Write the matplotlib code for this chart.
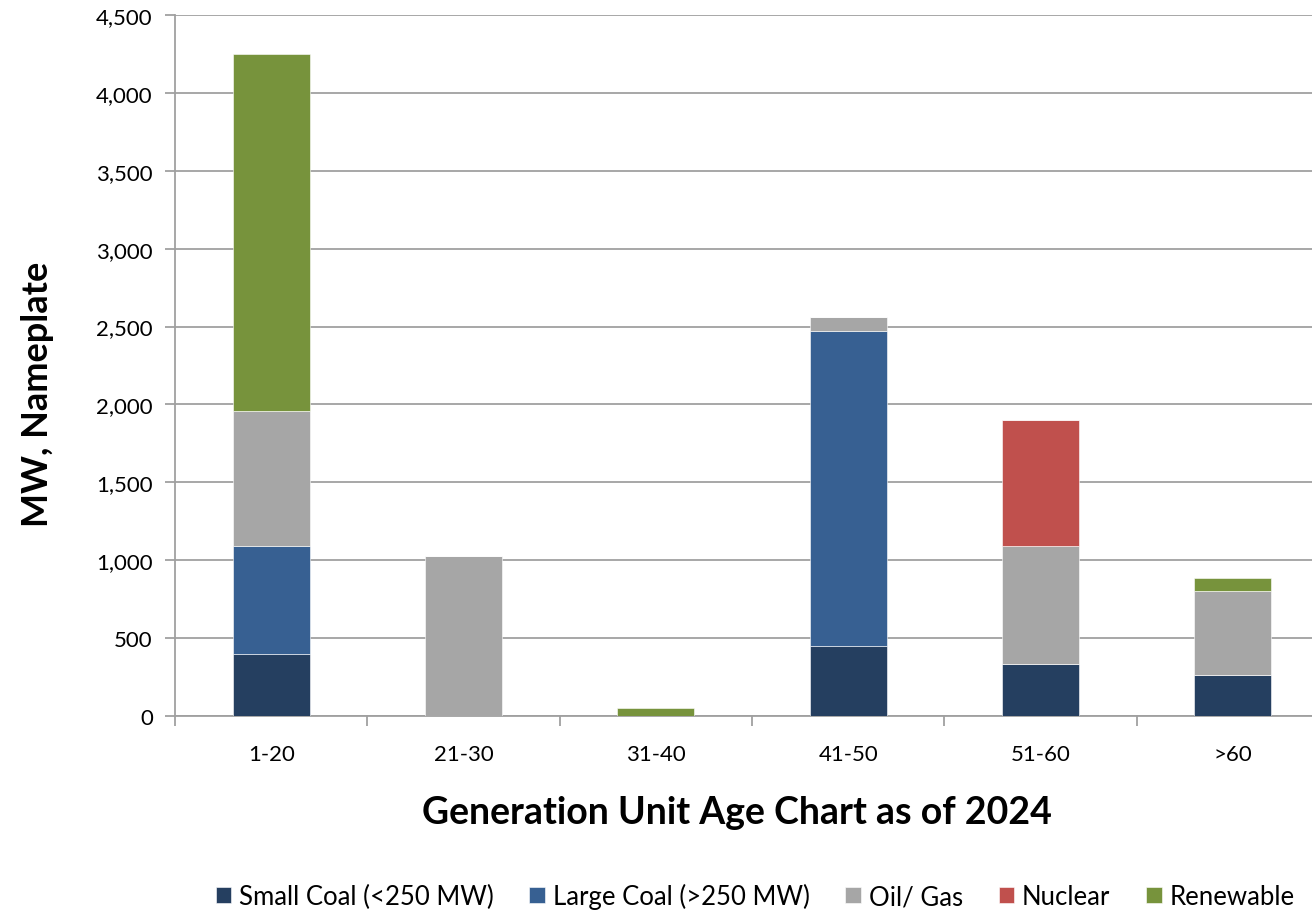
import matplotlib
matplotlib.use("Agg")
import matplotlib.pyplot as plt
import numpy as np

plt.rcParams['font.family'] = ['Lato', 'DejaVu Sans']

# data (MW, nameplate)
age_groups = ['1-20', '21-30', '31-40', '41-50', '51-60', '>60']
small_coal = [400, 0, 0, 450, 335, 260]
large_coal = [690, 0, 0, 2020, 0, 0]
oil_gas = [870, 1030, 0, 90, 755, 545]
nuclear = [0, 0, 0, 0, 810, 0]
renewable = [2290, 0, 50, 0, 0, 80]

series_names = ['Small Coal (<250 MW)', 'Large Coal (>250 MW)', 'Oil/ Gas', 'Nuclear', 'Renewable']
series_colors = ['#253f60', '#376092', '#a6a6a6', '#c0504d', '#77933c']

fig = plt.figure(figsize=(13.12, 9.12), dpi=100)
# plot area runs a little past the right edge, like the original crop
ax = fig.add_axes([175 / 1312, 1 - 717 / 912, 1154 / 1312, 701 / 912])

x = np.arange(len(age_groups))
bottom = np.zeros(len(age_groups))
for name, vals, col in zip(series_names,
                           [small_coal, large_coal, oil_gas, nuclear, renewable],
                           series_colors):
    ax.bar(x, vals, width=0.4, bottom=bottom, color=col, label=name,
           edgecolor='white', linewidth=0.4, zorder=3)
    bottom += np.array(vals)

ax.set_xlim(-0.5, len(age_groups) - 0.5)
ax.set_ylim(0, 4500)
ax.set_yticks(np.arange(0, 4501, 500))
ax.set_yticklabels([f'{v:,}' for v in range(0, 4501, 500)])
ax.yaxis.grid(True, color='#a0a0a0', linewidth=1.3, zorder=0)

ax.set_xticks(x)
ax.set_xticklabels(age_groups)
ax.set_xticks(np.arange(-0.5, len(age_groups)), minor=True)
ax.tick_params(axis='x', which='major', length=0, pad=20, labelsize=16)
ax.tick_params(axis='x', which='minor', length=7, color='#a0a0a0', width=1.3)
ax.tick_params(axis='y', length=7, color='#a0a0a0', width=1.3, pad=9, labelsize=16)

for side in ['top', 'right']:
    ax.spines[side].set_visible(False)
for side in ['left', 'bottom']:
    ax.spines[side].set_color('#a0a0a0')
    ax.spines[side].set_linewidth(1.3)

ax.set_ylabel('MW, Nameplate', fontsize=26, fontweight='bold')
ax.yaxis.set_label_coords(-0.105, 0.46)
ax.set_xlabel('Generation Unit Age Chart as of 2024', fontsize=27, fontweight='bold')
ax.xaxis.set_label_coords(0.4866, -0.113)

fig.legend(loc='center', bbox_to_anchor=(755 / 1312, 1 - 897 / 912), ncol=5,
           frameon=False, fontsize=18.5, handlelength=0.6, handleheight=0.6,
           handletextpad=0.3, columnspacing=1.4)

fig.savefig('out.png', dpi=100)
